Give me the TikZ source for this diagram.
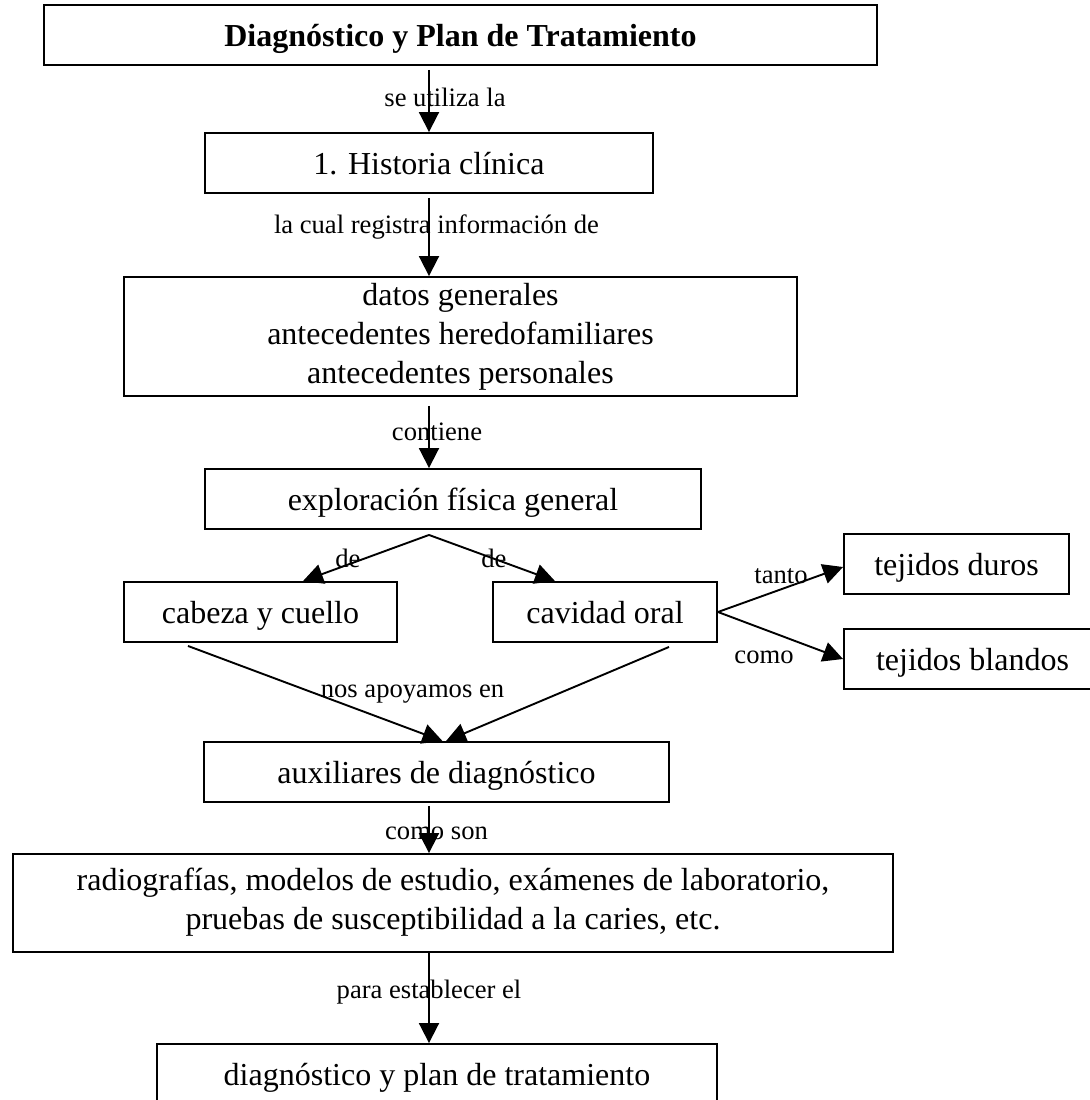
\documentclass[tikz,border=0pt]{standalone}
\usepackage{fontspec}
\setmainfont{Liberation Serif}
\usetikzlibrary{arrows.meta}

\begin{document}
\begin{tikzpicture}[x=0.5pt, y=-0.5pt,
  box/.style={draw, line width=0.95pt, inner sep=0pt, minimum height=30pt,
    text height=11pt, text depth=0pt, font=\fontsize{16}{19.25}\selectfont},
  multibox/.style={draw, line width=0.95pt, inner sep=0pt, align=center,
    font=\fontsize{16}{19.5}\selectfont},
  lbl/.style={anchor=base, inner sep=0pt, font=\fontsize{13.3}{16}\selectfont},
  arr/.style={line width=0.95pt, -{Triangle[length=10pt,width=10pt]}}]

\clip (0,0) rectangle (1090,1100);

% boxes
\node[box, minimum width=416.5pt, font=\fontsize{16}{19.25}\selectfont\bfseries] (title) at (460.5,35) {Diagnóstico y Plan de Tratamiento};
\node[box, minimum width=224pt] (hist) at (429,163) {1. Historia clínica};
\node[multibox, minimum width=336.5pt, minimum height=59.5pt] (datos) at (460.5,336.5)
  {datos generales\\antecedentes heredofamiliares\\antecedentes personales};
\node[box, minimum width=248pt] (expl) at (453,499) {exploración física general};
\node[box, minimum width=136.5pt] (cab) at (260.5,612) {cabeza y cuello};
\node[box, minimum width=112pt] (cav) at (605,612) {cavidad oral};
\node[box, minimum width=112.5pt] (duros) at (956.5,564) {tejidos duros};
\node[box, minimum width=128.5pt] (blandos) at (972.5,659) {tejidos blandos};
\node[box, minimum width=232.5pt] (aux) at (436.5,772) {auxiliares de diagnóstico};
\node[multibox, minimum width=440pt, minimum height=49pt, text depth=4pt] (radio) at (453,903)
  {radiografías, modelos de estudio, exámenes de laboratorio,\\pruebas de susceptibilidad a la caries, etc.};
\node[box, minimum width=280pt] (final) at (437,1074) {diagnóstico y plan de tratamiento};

% vertical spine of connectors
\draw[arr] ([yshift=-2pt]title.south -| hist.north) -- (hist.north);
\draw[arr] ([yshift=-2pt]hist.south) -- (datos.north -| hist.north);
\draw[arr] ([yshift=-4.5pt]datos.south -| hist.north) -- (expl.north -| hist.north);

% branches of the physical exploration
\coordinate (fork) at ([yshift=-2.5pt]expl.south -| hist.north);
\draw[arr] (fork) -- ([xshift=21.25pt]cab.north);
\draw[arr] (fork) -- ([xshift=-25pt]cav.north);

% oral cavity tissues
\draw[arr] (cav.east) -- ([yshift=-1.5pt]duros.west);
\draw[arr] (cav.east) -- (blandos.west);

% both regions lead to the diagnostic aids
\coordinate (cabout) at ([xshift=-36.25pt, yshift=-1.5pt]cab.south);
\coordinate (cavout) at ([xshift=32pt, yshift=-2pt]cav.south);
\draw[arr] (cabout) -- ([xshift=3pt]aux.north);
\draw[arr] (cavout) -- ([xshift=4.75pt]aux.north);

\draw[arr] ([yshift=-1.5pt]aux.south -| hist.north) -- (radio.north -| hist.north);
\draw[arr] (radio.south -| hist.north) -- (final.north -| hist.north);

% connector labels
\node[lbl] (l1) at (445,106) {se utiliza la};
\node[lbl] (l2) at (436.5,233) {la cual registra información de};
\node[lbl] (l3) at (437,440.5) {contiene};
\node[lbl] (l4) at (348,567) {de};
\node[lbl] (l5) at (494,567) {de};
\node[lbl] (l6) at (781,583) {tanto};
\node[lbl] (l7) at (764,663) {como};
\node[lbl] (l8) at (412.5,697) {nos apoyamos en};
\node[lbl] (l9) at (436.5,839) {como son};
\node[lbl] (l10) at (429,998) {para establecer el};

\end{tikzpicture}
\end{document}
